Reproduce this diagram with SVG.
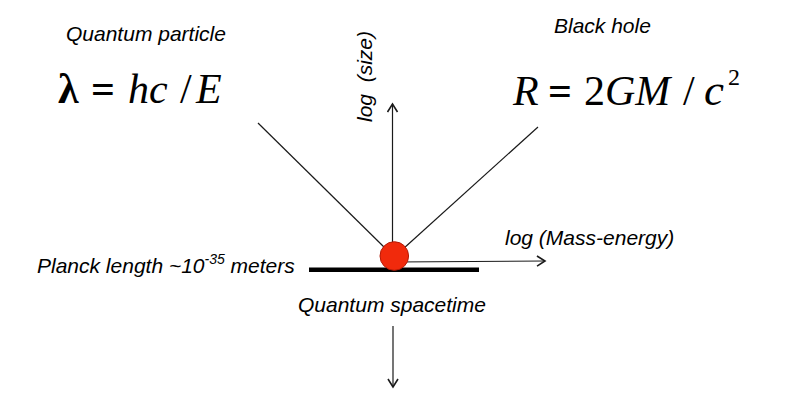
<svg xmlns="http://www.w3.org/2000/svg" width="800" height="406" viewBox="0 0 800 406">
<style>
.lbl{font-family:"Liberation Sans",Arial,sans-serif;font-style:italic;font-size:21px;fill:#000}
.eq{font-family:"Liberation Serif","Times New Roman",serif;font-size:42px;fill:#000}
.ln{stroke:#1a1a1a;stroke-width:1.2;fill:none}
</style>
<defs>
<marker id="ah" markerUnits="userSpaceOnUse" markerWidth="14" markerHeight="14" refX="9" refY="6" orient="auto">
<path d="M1,1 L9,6 L1,11" fill="none" stroke="#1a1a1a" stroke-width="1.6"/>
</marker>
</defs>
<rect width="800" height="406" fill="#fff"/>
<g id="connectors">
<line class="ln" x1="258" y1="123" x2="386" y2="249"/>
<line class="ln" x1="538" y1="127" x2="403" y2="249"/>
<line class="ln" x1="392.5" y1="245" x2="392.5" y2="104" marker-end="url(#ah)"/>
<line class="ln" x1="395" y1="262" x2="545" y2="261" marker-end="url(#ah)"/>
<line class="ln" x1="393" y1="326" x2="393" y2="387" marker-end="url(#ah)"/>
</g>
<g id="planck-line">
<line x1="309" y1="269.7" x2="479" y2="269.7" stroke="#000" stroke-width="4.5"/>
</g>
<g id="particle">
<circle cx="394.3" cy="256" r="14.3" fill="#f12a0c" stroke="#b51a06" stroke-width="1"/>
</g>
<g id="quantum-particle">
<text class="lbl" x="66" y="40.7">Quantum particle</text>
<text class="eq" y="102.7" font-size="44"><tspan x="58" font-weight="bold">λ</tspan><tspan x="91" font-weight="bold">=</tspan><tspan x="128" font-style="italic">hc</tspan><tspan x="180">/</tspan><tspan x="196" font-style="italic">E</tspan></text>
</g>
<g id="black-hole">
<text class="lbl" x="554" y="32.7">Black hole</text>
<text class="eq" y="105"><tspan x="513" font-style="italic">R</tspan><tspan x="548" font-weight="bold">=</tspan><tspan x="584">2</tspan><tspan font-style="italic">GM</tspan><tspan x="683">/</tspan><tspan x="704" font-style="italic" font-size="45">c</tspan><tspan x="728" y="85" font-size="24">2</tspan></text>
</g>
<g id="axis-size">
<text class="lbl" transform="translate(372,122) rotate(-90)" xml:space="preserve">log  (size)</text>
</g>
<g id="axis-mass">
<text class="lbl" x="505" y="245">log (Mass-energy)</text>
</g>
<g id="planck-label">
<text class="lbl" x="37" y="273.3">Planck length ~10<tspan font-size="14" dy="-9">-35</tspan><tspan dy="9"> meters</tspan></text>
</g>
<g id="quantum-spacetime">
<text class="lbl" x="298" y="311.7">Quantum spacetime</text>
</g>
</svg>
